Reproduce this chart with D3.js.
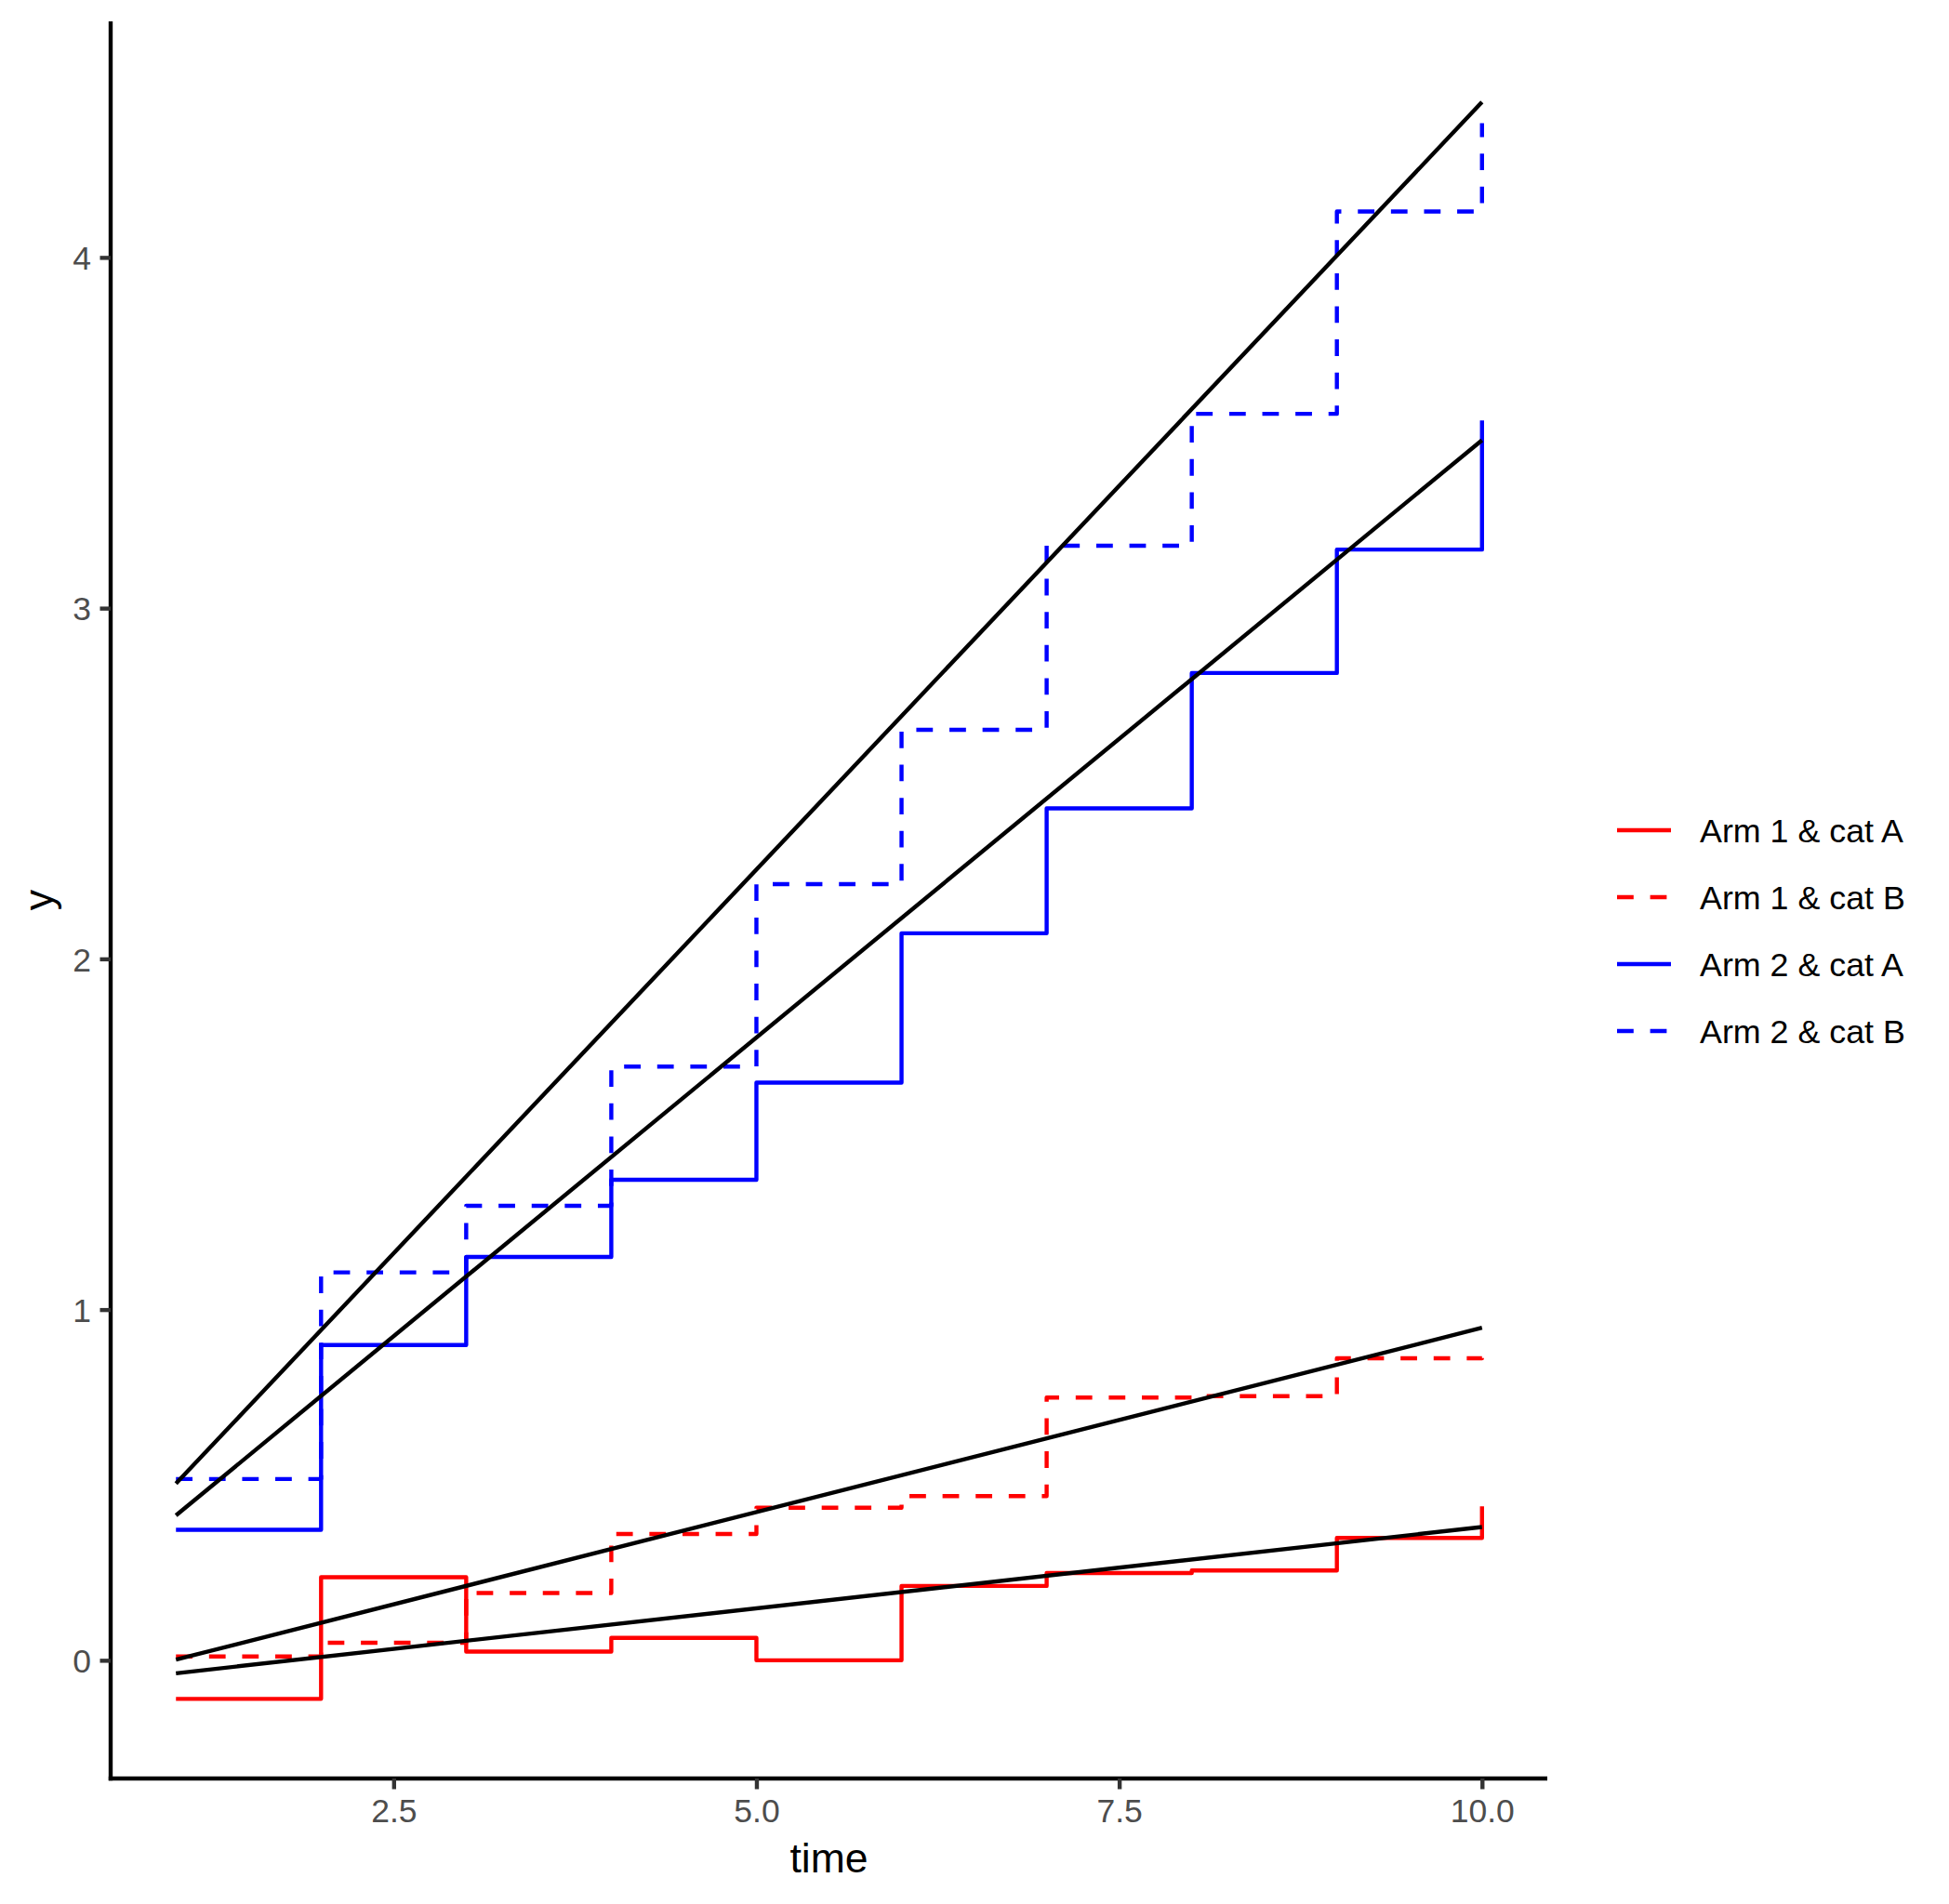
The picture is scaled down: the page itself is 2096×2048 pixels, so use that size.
<!DOCTYPE html>
<html>
<head>
<meta charset="utf-8">
<script src="https://cdn.jsdelivr.net/npm/d3@7"></script>
<style>
  html, body { margin: 0; padding: 0; background: #ffffff; }
  svg { display: block; }
  text { font-family: "Liberation Sans", Arial, Helvetica, sans-serif; }
</style>
</head>
<body>
<svg id="chart" width="2096" height="2048"></svg>
<script>
// ---- data ----
const time = [1, 2, 3, 4, 5, 6, 7, 8, 9, 10];
const arm1CatA = [-0.110, 0.237, 0.025, 0.064, 0.000, 0.212, 0.249, 0.256, 0.349, 0.439];
const arm1CatB = [0.011, 0.050, 0.192, 0.360, 0.435, 0.468, 0.749, 0.753, 0.861, 0.862];
const arm2CatA = [0.372, 0.899, 1.150, 1.370, 1.647, 2.073, 2.429, 2.815, 3.167, 3.535];
const arm2CatB = [0.517, 1.106, 1.296, 1.693, 2.213, 2.653, 3.178, 3.554, 4.131, 4.383];

// fitted (linear) trend lines: value at first time and at last time
const fitTime = [1, 10];
const fitArm1CatA = [-0.037, 0.380];
const fitArm1CatB = [0.002, 0.948];
const fitArm2CatA = [0.413, 3.479];
const fitArm2CatB = [0.504, 4.443];

const seriesNames = ["Arm 1 & cat A", "Arm 1 & cat B", "Arm 2 & cat A", "Arm 2 & cat B"];
const seriesColors = ["#FF0000", "#FF0000", "#0000FF", "#0000FF"];
const seriesDashed = [false, true, false, true];

const xTicks = [2.5, 5.0, 7.5, 10.0];
const yTicks = [0, 1, 2, 3, 4];

// ---- layout ----
const panel = { left: 119, right: 1664, top: 23, bottom: 1913 };
const LW = 4.4;
const DASH = "17.8,17.8";
const tickFont = 35.5;
const legendFont = 35.8;
const titleFont = 44.5;

const svg = d3.select("#chart");

const x = d3.scaleLinear().domain([0.55, 10.45]).range([panel.left, panel.right]);
const y = d3.scaleLinear().domain([-0.337, 4.673]).range([panel.bottom, panel.top]);

const stepValues = [arm1CatA, arm1CatB, arm2CatA, arm2CatB];
const fitValues = [fitArm1CatA, fitArm1CatB, fitArm2CatA, fitArm2CatB];

const stepLine = d3.line()
  .x(d => x(d[0]))
  .y(d => y(d[1]))
  .curve(d3.curveStepAfter);

const straight = d3.line()
  .x(d => x(d[0]))
  .y(d => y(d[1]));

const gData = svg.append("g");

stepValues.forEach((vals, i) => {
  const pts = time.map((t, k) => [t, vals[k]]);
  gData.append("path")
    .attr("d", stepLine(pts))
    .attr("fill", "none")
    .attr("stroke", seriesColors[i])
    .attr("stroke-width", LW)
    .attr("stroke-linejoin", "round")
    .attr("stroke-linecap", "butt")
    .attr("stroke-dasharray", seriesDashed[i] ? DASH : null);
});

fitValues.forEach(vals => {
  const pts = fitTime.map((t, k) => [t, vals[k]]);
  gData.append("path")
    .attr("d", straight(pts))
    .attr("fill", "none")
    .attr("stroke", "#000000")
    .attr("stroke-width", LW)
    .attr("stroke-linecap", "butt");
});

// ---- axes ----
const xAxis = d3.axisBottom(x)
  .tickValues(xTicks)
  .tickFormat(d3.format(".1f"))
  .tickSize(11.5)
  .tickSizeOuter(0);

const gx = svg.append("g")
  .attr("transform", `translate(0,${panel.bottom})`)
  .call(xAxis);
gx.select(".domain").attr("stroke", "#000").attr("stroke-width", LW)
  .attr("d", `M${panel.left - LW / 2},0H${panel.right}`);
gx.selectAll(".tick line").attr("stroke", "#333333").attr("stroke-width", LW);
gx.selectAll(".tick text")
  .attr("y", 47).attr("dy", null)
  .attr("fill", "#4D4D4D")
  .style("font-size", tickFont + "px")
  .style("font-family", '"Liberation Sans", Arial, sans-serif');

const yAxis = d3.axisLeft(y)
  .tickValues(yTicks)
  .tickFormat(d3.format("d"))
  .tickSize(11.5)
  .tickSizeOuter(0);

const gy = svg.append("g")
  .attr("transform", `translate(${panel.left},0)`)
  .call(yAxis);
gy.select(".domain").attr("stroke", "#000").attr("stroke-width", LW)
  .attr("d", `M0,${panel.top}V${panel.bottom + LW / 2}`);
gy.selectAll(".tick line").attr("stroke", "#333333").attr("stroke-width", LW);
gy.selectAll(".tick text")
  .attr("x", -21).attr("dy", (0.358 * tickFont) + "px")
  .attr("fill", "#4D4D4D")
  .style("font-size", tickFont + "px")
  .style("font-family", '"Liberation Sans", Arial, sans-serif');

// axis titles
svg.append("text")
  .attr("x", (panel.left + panel.right) / 2)
  .attr("y", 2014)
  .attr("text-anchor", "middle")
  .attr("fill", "#000")
  .style("font-size", titleFont + "px")
  .text("time");

svg.append("text")
  .attr("transform", `translate(57,${(panel.top + panel.bottom) / 2}) rotate(-90)`)
  .attr("text-anchor", "middle")
  .attr("fill", "#000")
  .style("font-size", titleFont + "px")
  .text("y");

// ---- legend ----
const legendRowY = d3.scalePoint().domain(seriesNames).range([893, 1109]);
const legend = svg.append("g");
seriesNames.forEach((name, i) => {
  const yy = legendRowY(name);
  legend.append("line")
    .attr("x1", 1739).attr("x2", 1797)
    .attr("y1", yy).attr("y2", yy)
    .attr("stroke", seriesColors[i])
    .attr("stroke-width", LW)
    .attr("stroke-dasharray", seriesDashed[i] ? DASH : null);
  legend.append("text")
    .attr("x", 1828)
    .attr("y", yy + 0.358 * legendFont)
    .attr("fill", "#000")
    .style("font-size", legendFont + "px")
    .text(name);
});
</script>
</body>
</html>
